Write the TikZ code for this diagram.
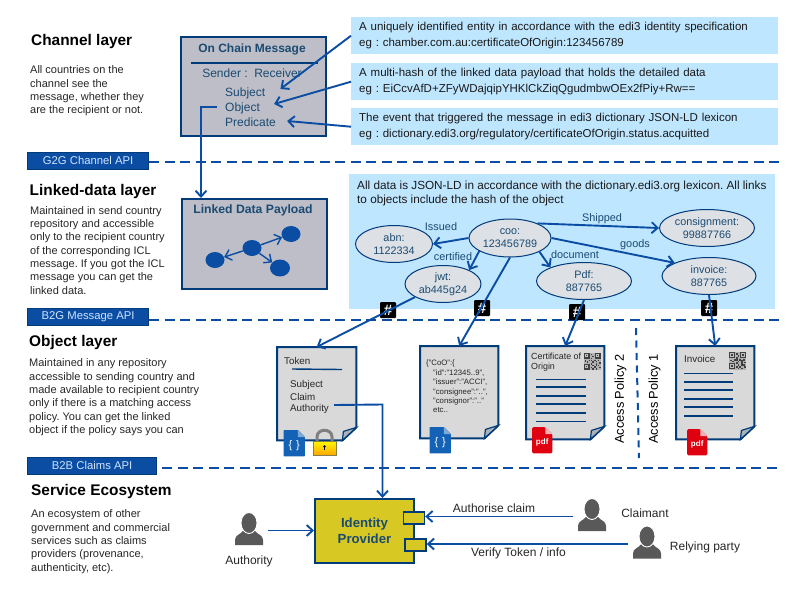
\documentclass[tikz,border=0pt]{standalone}
\usepackage{fontspec}
\setmainfont{Liberation Sans}
\usepackage{xcolor}
\usepackage{tikz}
\usetikzlibrary{
    calc,
    arrows.meta,
    shapes.geometric
}
\definecolor{flowblue}{HTML}{0A4DA3}
\definecolor{darkline}{HTML}{003B7A}
\definecolor{tealtext}{HTML}{1B4B72}
\definecolor{boxgray}{HTML}{BDBEC7}
\definecolor{paleblue}{HTML}{BFE6FF}
\definecolor{ovalgray}{HTML}{DDE0E4}
\definecolor{pagegray}{HTML}{D9D9D9}
\definecolor{foldgray}{HTML}{A9B1BA}
\definecolor{apitext}{HTML}{CFE4FF}
\definecolor{idpyellow}{HTML}{D8C824}
\definecolor{persongray}{HTML}{595959}
\definecolor{fileblue}{HTML}{1462B5}
\definecolor{pdfred}{HTML}{DF0010}
\newcommand{\pxfont}[2]{\fontsize{#1}{#2}\selectfont}
\frenchspacing
\tikzset{
    flow/.style={->,>={Straight Barb[length=6pt,width=11pt]},draw=flowblue,line width=1.9},
    apiline/.style={draw=flowblue,line width=2,dash pattern=on 10pt off 5.5pt},
    apibox/.style={anchor=north west,fill=flowblue,draw=darkline,line width=1.2,text=apitext,minimum height=17,inner sep=0,font=\pxfont{11.3}{13}},
    layertitle/.style={anchor=west,inner sep=0,font=\bfseries\pxfont{15.4}{17}},
    layerbody/.style={anchor=north west,inner sep=0,align=left,text=black!85,font=\pxfont{11}{13.35}},
    hintbox/.style={anchor=north west,fill=paleblue,minimum width=427,minimum height=37,text width=411,inner xsep=8,inner ysep=0,align=left,text=black!90,font=\pxfont{11.5}{14},execute at begin node={\vspace*{2pt}}},
    chainbox/.style={anchor=north west,fill=boxgray,draw=darkline,line width=2.2},
    chaintext/.style={anchor=west,inner sep=0,text=tealtext,font=\pxfont{12}{14}},
    oval/.style={ellipse,fill=ovalgray,draw=darkline,line width=1,minimum height=37,inner sep=0,align=center,text=tealtext,font=\pxfont{10.8}{13.5}},
    edgelabel/.style={inner sep=0,text=tealtext,font=\pxfont{10.9}{13}},
    dot/.style={ellipse,fill=flowblue,minimum width=19,minimum height=16,inner sep=0},
    hashbadge/.style={fill=black,rounded corners=1,minimum size=16,inner sep=0,text=white,font=\bfseries\pxfont{15}{15}},
    docpage/.style={anchor=north west,minimum width=79,minimum height=93,inner sep=0},
    doctext/.style={anchor=west,inner sep=0,text=black!85,font=\pxfont{9.8}{12}},
    pageline/.style={draw=darkline,line width=1.4},
    policy/.style={rotate=90,inner sep=0,font=\pxfont{12.8}{15}},
    porttab/.style={anchor=north west,fill=idpyellow,draw=darkline,line width=1.7,minimum width=21,minimum height=12,inner sep=0},
    actorname/.style={inner sep=0,text=black!85,font=\pxfont{12}{14}}
}
% page outline with the turned corner
\newcommand{\foldpage}[1]{
    \draw[draw=darkline,line width=2,fill=pagegray] (#1.north west)--(#1.north east)--([yshift=13]#1.south east)
        --([xshift=-14]#1.south east)--(#1.south west)--cycle;
    \draw[draw=darkline,line width=1.2,fill=foldgray] ([yshift=13]#1.south east)--([xshift=-14]#1.south east)
        --([xshift=-13,yshift=9]#1.south east)--cycle;
}
% name, x, y of the head
\newcommand{\persona}[3]{
    \begin{scope}[shift={(#2,#3)}]
        \draw (0,7.5) node(#1)[minimum width=37,minimum height=34,inner sep=0]{};
        \fill[persongray] (-14,22) -- (-14,17) .. controls (-14,12) and (-9,12) .. (-5,7) -- (5,7)
            .. controls (9,12) and (14,12) .. (14,17) -- (14,22) -- cycle;
        \filldraw[fill=persongray,draw=white,line width=0.9] (0,0) ellipse (8 and 10.5);
    \end{scope}
}
% name, x, y of the top left corner
\newcommand{\jsonicon}[3]{
    \draw (#2,#3) node(#1)[anchor=north west,minimum width=21,minimum height=26,inner sep=0]{};
    \fill[fileblue,rounded corners=0.8] (#1.north west)--([xshift=-7]#1.north east)--([yshift=-7]#1.north east)
        --(#1.south east)--(#1.south west)--cycle;
    \fill[fileblue!55!white] ([xshift=-7]#1.north east)--([yshift=-7]#1.north east)--([xshift=-7,yshift=-7]#1.north east)--cycle;
    \draw ([yshift=-2]#1.center) node(#1txt)[text=white,inner sep=0,font=\pxfont{11}{13}]{\{\,\,\}};
}
\newcommand{\pdficon}[3]{
    \draw (#2,#3) node(#1)[anchor=north west,minimum width=20,minimum height=26,inner sep=0]{};
    \fill[pdfred,rounded corners=1.5] (#1.north west)--([xshift=-7]#1.north east)--([yshift=-7]#1.north east)
        --(#1.south east)--(#1.south west)--cycle;
    \fill[pdfred!30!white] ([xshift=-7]#1.north east)--([yshift=-7]#1.north east)--([xshift=-7,yshift=-7]#1.north east)--cycle;
    \draw ([yshift=-2]#1.center) node(#1txt)[text=white,inner sep=0,font=\bfseries\pxfont{8}{9}]{pdf};
}
\newcommand{\qrmark}[3]{
    \begin{scope}[shift={(#2,#3)}]
        \fill[black!30] (0,0) rectangle (17,17.5);
        \foreach \cx/\cy in {0/0,11/0,0/11}{
            \fill[black!75] (\cx,\cy) rectangle +(6,6);
            \fill[black!25] (\cx+1.3,\cy+1.3) rectangle +(3.4,3.4);
            \fill[black!75] (\cx+2.2,\cy+2.2) rectangle +(1.6,1.6);
        }
        \foreach \cx/\cy in {7/1,8.7/3,7/5,10.4/7,7/7,8.7/8.7,12/8,14/7,15.4/9.5,12/10.4,7/10.4,8.7/12,10.4/13.8,
                12/12.2,14/12,15.4/14,7/14,8.7/15.7,12/15.6,1/7.5,3/8.7,5/7}{
            \fill[black!75] (\cx,\cy) rectangle +(1.7,1.7);
        }
    \end{scope}
}
\begin{document}
\begin{tikzpicture}[x=1pt,y=-1pt]
    \useasboundingbox (0,0) rectangle (800,600);

    % left column
    \draw (31,41.5) node(channeltitle)[layertitle]{Channel layer};
    \draw (30,65.5) node(channelbody)[layerbody]{All countries on the\\channel see the\\message, whether they\\are the recipient or not.};
    \draw (29.5,191.5) node(linkedtitle)[layertitle]{Linked-data layer};
    \draw (30,206) node(linkedbody)[layerbody]{Maintained in send country\\repository and accessible\\only to the recipient country\\of the corresponding ICL\\message. If you got the ICL\\message you can get the\\linked data.};
    \draw (29,342.5) node(objecttitle)[layertitle]{Object layer};
    \draw (29,358.5) node(objectbody)[layerbody]{Maintained in any repository\\accessible to sending country and\\made available to recipient country\\only if there is a matching access\\policy. You can get the linked\\object if the policy says you can};
    \draw (31,491.5) node(servicetitle)[layertitle]{Service Ecosystem};
    \draw (31,509.5) node(servicebody)[layerbody]{An ecosystem of other\\government and commercial\\services such as claims\\providers (provenance,\\authenticity, etc).};

    % api bands
    \draw (27,151.5) node(gapi)[apibox,minimum width=121]{G2G Channel API};
    \draw (27,308) node(bapi)[apibox,minimum width=121]{B2G Message API};
    \draw (27,456.5) node(capi)[apibox,minimum width=129]{B2B Claims API};
    \coordinate (gapiend) at (780,162);
    \coordinate (bapiend) at (781,320);
    \coordinate (capiend) at (780,467.5);
    \draw[apiline] (gapi.east|-gapiend) -- (gapiend);
    \draw[apiline] (bapi.east|-bapiend) -- (bapiend);
    \draw[apiline] ([xshift=5]capi.east|-capiend) -- (capiend);

    % channel layer
    \draw (180,36) node(message)[chainbox,minimum width=145,minimum height=99]{};
    \draw (252,49) node(messagetitle)[inner sep=0,text=tealtext,font=\bfseries\pxfont{12}{14}]{On Chain Message};
    \coordinate (ruleleft) at (191,63);
    \coordinate (ruleright) at (318,63);
    \draw[draw=darkline,line width=2] (ruleleft) -- (ruleright);
    \draw (252,73.5) node(parties)[chaintext,anchor=center]{Sender :\ \ Receiver};
    \draw (225,93) node(subject)[chaintext]{Subject};
    \draw (225,108) node(object)[chaintext]{Object};
    \draw (225,122) node(predicate)[chaintext]{Predicate};

    \draw (351,17) node(hintone)[hintbox]{A uniquely identified entity in accordance with the edi3 identity specification\\eg : chamber.com.au:certificateOfOrigin:123456789};
    \draw (351,63) node(hinttwo)[hintbox]{A multi-hash of the linked data payload that holds the detailed data\\eg : EiCcvAfD+ZFyWDajqipYHKlCkZiqQgudmbwOEx2fPiy+Rw==};
    \draw (351,108) node(hintthree)[hintbox]{The event that triggered the message in edi3 dictionary JSON-LD lexicon\\eg : dictionary.edi3.org/regulatory/certificateOfOrigin.status.acquitted};

    \draw[flow] (hintone.west) -- ([xshift=15,yshift=4]subject.east);
    \draw[flow] (hinttwo.west) -- ([xshift=14,yshift=4]object.east);
    \draw[flow] (hintthree.west) -- ([xshift=11,yshift=1]predicate.east);

    % linked data layer
    \draw (181,198) node(payload)[chainbox,minimum width=145,minimum height=90]{};
    \draw (253,210.5) node(payloadtitle)[inner sep=0,text=tealtext,font=\bfseries\pxfont{12.2}{14}]{Linked Data Payload};
    \coordinate (objectbend) at (201,107);
    \draw[flow] ([xshift=-8,yshift=1]object.west) -- (objectbend) -- (objectbend|-payload.north);
    \draw (215,260) node(dota)[dot]{};
    \draw (252,248) node(dotb)[dot]{};
    \draw (291,234) node(dotc)[dot]{};
    \draw (280,268) node(dotd)[dot,minimum width=20,minimum height=17]{};
    \draw[flow,line width=1.4] (dotb) -- (dota);
    \draw[flow,line width=1.4] (dotb) -- (dotc);
    \draw[flow,line width=1.4] (dotb) -- (dotd);

    \draw (349,174) node(datapanel)[anchor=north west,fill=paleblue,minimum width=426,minimum height=135,inner sep=0]{};
    \draw (357,180.5) node(datanote)[anchor=north west,inner sep=0,align=left,text=black!90,font=\pxfont{11.75}{14}]{All data is JSON-LD in accordance with the dictionary.edi3.org lexicon. All links\\to objects include the hash of the object};
    \draw (510,238) node(coo)[oval,minimum width=82,minimum height=38]{coo:\\123456789};
    \draw (394,244) node(abn)[oval,minimum width=77]{abn:\\1122334};
    \draw (443,284) node(jwt)[oval,minimum width=76]{jwt:\\ab445g24};
    \draw (584,281) node(pdffile)[oval,minimum width=95]{Pdf:\\887765};
    \draw (707,228) node(consignment)[oval,minimum width=95]{consignment:\\99887766};
    \draw (709,276) node(invoice)[oval,minimum width=94]{invoice:\\887765};

    \draw (441,226.5) node(issued)[edgelabel]{Issued};
    \draw (453,256.5) node(certified)[edgelabel]{certified};
    \draw (602,218.5) node(shipped)[edgelabel]{Shipped};
    \draw (635,244.5) node(goods)[edgelabel]{goods};
    \draw (575,254.5) node(document)[edgelabel]{document};

    \draw[flow] (coo.west) -- (abn.east);
    \draw[flow] (coo.203) -- (jwt.28);
    \draw[flow] (coo.28) -- (consignment.west);
    \draw[flow] (coo.east) -- (invoice.159);
    \draw[flow] (coo.-25) -- (pdffile.158);

    % object layer
    \draw (388,310) node(hasha)[hashbadge]{\#};
    \draw (482,308) node(hashb)[hashbadge]{\#};
    \draw (577,312) node(hashc)[hashbadge]{\#};
    \draw (709,308) node(hashd)[hashbadge]{\#};

    \draw (277,347) node(tokendoc)[docpage]{};
    \draw (420,346) node(jsondoc)[docpage,minimum width=78,minimum height=92]{};
    \draw (526,346) node(certdoc)[docpage,minimum width=78]{};
    \draw (676,346) node(invoicedoc)[docpage,minimum width=78]{};
    \foldpage{tokendoc}
    \foldpage{jsondoc}
    \foldpage{certdoc}
    \foldpage{invoicedoc}

    \draw[flow] (jwt.205) -- (tokendoc.north);
    \draw[flow] (coo.south) -- (jsondoc.north);
    \draw[flow] (pdffile.south) -- (certdoc.north);
    \draw[flow] (invoice.south) -- (invoicedoc.north);

    \draw (284,361) node(tokenname)[doctext]{Token};
    \coordinate (tokenruleleft) at (292,369);
    \coordinate (tokenruleright) at (342,369.5);
    \draw[pageline] (tokenruleleft) -- (tokenruleright);
    \draw (290,384.5) node(tokensubject)[doctext]{Subject};
    \draw (290,397) node(tokenclaim)[doctext]{Claim};
    \draw (290,409) node(tokenauthority)[doctext]{Authority};

    \draw (426,360) node(jsontext)[anchor=north west,inner sep=0,align=left,text=black!85,font=\pxfont{7.8}{9.4}]{\{"CoO":\{\\\hspace*{7pt}"id":"12345..9",\\\hspace*{7pt}"issuer":"ACCI",\\\hspace*{7pt}"consignee":"..",\\\hspace*{7pt}"consignor":".."\\\hspace*{7pt}etc..};

    \draw (531,362.5) node(certname)[doctext,align=left,font=\pxfont{8.9}{10.3}]{Certificate of\\Origin};
    \draw (684,358.5) node(invoicename)[doctext]{Invoice};
    \foreach \ly in {379.5,387,396,404,413,421.5}{
        \draw[pageline] (536,\ly) -- (586,\ly);
    }
    \foreach \ly in {373.5,382,390,399,407,416}{
        \draw[pageline] (684,\ly) -- (733,\ly);
    }
    \qrmark{certqr}{583.5}{352.5}
    \qrmark{invoiceqr}{729}{352}

    \jsonicon{tokenicon}{283.5}{430}
    \jsonicon{jsonicon}{429.5}{427}
    \pdficon{certicon}{532}{427}
    \pdficon{invoiceicon}{687}{429}

    % padlock
    \draw[draw=black!50,line width=3] (317,441) -- (317,437) .. controls (317,428) and (332,428) .. (332,437) -- (332,441);
    \draw[draw=black!55!yellow,line width=0.7,top color=yellow!95!orange,bottom color=orange!70!yellow] (313,441) rectangle (336,455);
    \fill[black] (324.5,446.5) circle (1.3);
    \fill[black] (324,446.5) rectangle (325,450);

    \draw (620.5,399) node(policytwo)[policy]{Access Policy 2};
    \draw (654.5,399) node(policyone)[policy]{Access Policy 1};
    \coordinate (policytop) at (636,328);
    \coordinate (policybottom) at (639,458);
    \draw[draw=flowblue,line width=2,dash pattern=on 7pt off 5.5pt] (policytop) -- (policybottom);

    % service ecosystem
    \draw (314,498) node(idp)[anchor=north west,fill=idpyellow,draw=darkline,line width=2,minimum width=99,minimum height=64,inner sep=0,
        align=center,text=tealtext,font=\bfseries\pxfont{13.2}{16}]{Identity\\Provider};
    \draw (402.5,511) node(portone)[porttab]{};
    \draw (404,538) node(porttwo)[porttab]{};

    \persona{authority}{249}{523}
    \persona{claimant}{592}{509}
    \persona{relying}{647}{536.5}
    \draw (249,561.5) node(authorityname)[actorname]{Authority};
    \draw (645,513) node(claimantname)[actorname]{Claimant};
    \draw (705,547.5) node(relyingname)[actorname]{Relying party};

    \draw[flow] (authority.east) -- (authority.east-|idp.west);
    \draw[flow] (claimant.west) -- (claimant.west-|portone.east);
    \draw[flow] (relying.west) -- (relying.west-|porttwo.east);
    \draw (494,508) node(authorise)[actorname]{Authorise claim};
    \draw (518.5,553) node(verify)[actorname]{Verify Token / info};

    \coordinate (authoritybend) at (382.5,404.5);
    \draw[flow] ([xshift=5,yshift=4]tokenauthority.east) -- (authoritybend) -- (authoritybend|-idp.north);
\end{tikzpicture}
\end{document}
